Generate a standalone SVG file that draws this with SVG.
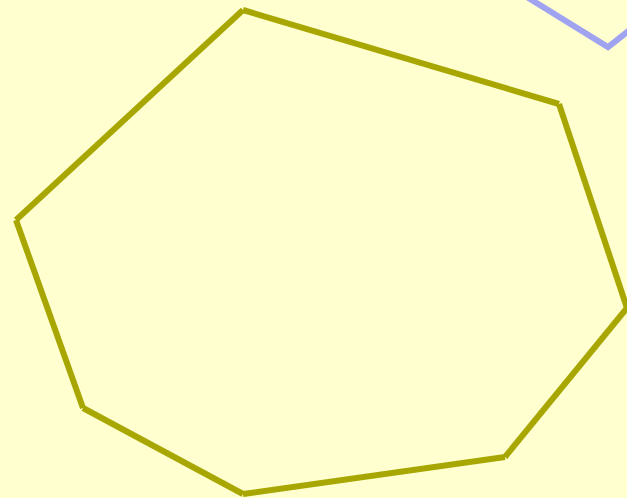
<svg xmlns="http://www.w3.org/2000/svg" width="627" height="498" viewBox="0 0 627 498">
<style>
.o{stroke:#a8a600;stroke-width:6;stroke-linecap:butt;fill:none}
.b{stroke:#a0a4f0;stroke-width:6;stroke-linecap:butt;stroke-linejoin:miter;fill:none}
</style>
<rect width="627" height="498" fill="#ffffd0"/>
<g id="connectors">
<line class="o" x1="243" y1="10" x2="559" y2="104"/>
<line class="o" x1="559" y1="104" x2="627" y2="308"/>
<line class="o" x1="627" y1="308" x2="505" y2="457"/>
<line class="o" x1="505" y1="457" x2="243" y2="494"/>
<line class="o" x1="243" y1="494" x2="83" y2="408"/>
<line class="o" x1="83" y1="408" x2="16" y2="220"/>
<line class="o" x1="16" y1="220" x2="243" y2="10"/>
<polyline class="b" points="522,-6 608,47 640,22"/>
</g>
</svg>
